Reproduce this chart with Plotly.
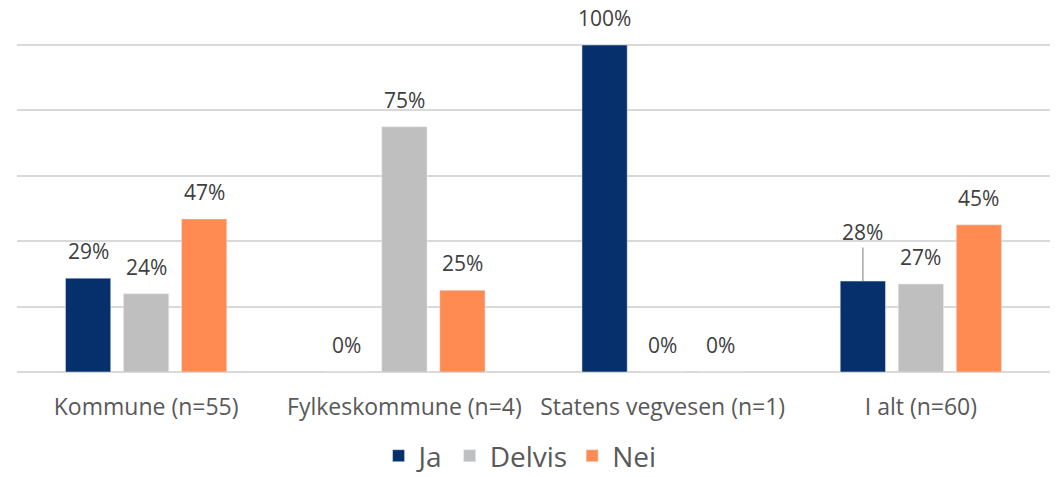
import plotly.graph_objects as go

categories = ["Kommune (n=55)", "Fylkeskommune (n=4)", "Statens vegvesen (n=1)", "I alt (n=60)"]
series_names = ["Ja", "Delvis", "Nei"]
ja = [28.7, 0, 100, 27.8]
delvis = [23.9, 75, 0, 26.9]
nei = [46.8, 25, 0, 45.0]
colors = ["#06306B", "#BFBFBF", "#FF8A52"]

# label drawn with a leader line (series index, category index)
leader = (0, 3)

BARGAP = 0.326
GROUPGAP = 0.22
FONT = "Open Sans"
LABEL_FONT = dict(family=FONT, size=21, color="#404040")

fig = go.Figure()
all_vals = [ja, delvis, nei]
for name, vals, col in zip(series_names, all_vals, colors):
    fig.add_trace(go.Bar(
        name=name, x=categories, y=vals, marker_color=col,
        hoverinfo="skip",
    ))

# data labels, positioned from the bar values through the axes
n = len(series_names)
slot = (1 - BARGAP) / n
for si, vals in enumerate(all_vals):
    for ci, v in enumerate(vals):
        xpos = ci + (si - (n - 1) / 2) * slot
        if (si, ci) == leader:
            fig.add_annotation(
                x=xpos, y=v, xref="x", yref="y", text=f"{v:.0f}%",
                showarrow=True, arrowhead=0, arrowwidth=1.5, arrowcolor="#A6A6A6",
                ax=0, ay=-49, standoff=0, font=LABEL_FONT,
            )
        else:
            fig.add_annotation(
                x=xpos, y=v, xref="x", yref="y", text=f"{v:.0f}%",
                showarrow=False, yanchor="bottom", yshift=11, font=LABEL_FONT,
            )

fig.update_layout(
    width=1063, height=477,
    margin=dict(l=17, r=13, t=38, b=105),
    paper_bgcolor="white", plot_bgcolor="white",
    barmode="group", bargap=BARGAP, bargroupgap=GROUPGAP,
    font=dict(family=FONT, color="#595959"),
    showlegend=True,
    legend=dict(orientation="h", x=0.487, xanchor="center",
                yref="container", y=0.044, yanchor="middle",
                font=dict(family=FONT, size=28, color="#595959"),
                itemwidth=30, traceorder="normal"),
)
fig.update_xaxes(
    type="category", showgrid=False, showline=False, zeroline=False, automargin=False,
    ticks="outside", ticklen=14, tickcolor="rgba(0,0,0,0)",
    tickfont=dict(family=FONT, size=23, color="#595959"),
)
fig.update_yaxes(
    range=[0, 102.14], tickvals=[0, 20, 40, 60, 80, 100], showticklabels=False, automargin=False,
    showgrid=True, gridcolor="#D9D9D9", gridwidth=1.5,
    zeroline=True, zerolinecolor="#D9D9D9", zerolinewidth=1.5,
)

fig.write_html("out.html", config={"displayModeBar": False},
               post_script="document.body.style.margin='0';")
